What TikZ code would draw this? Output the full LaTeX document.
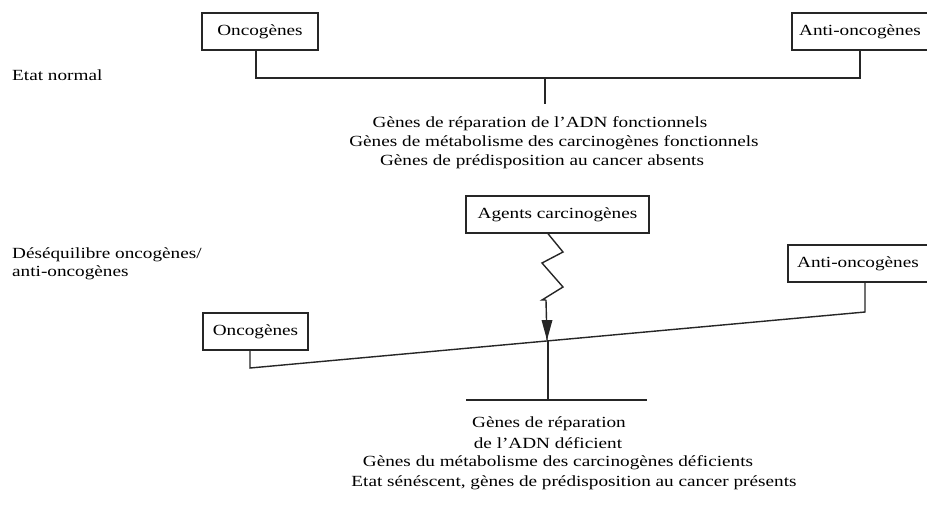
\documentclass[tikz,border=0pt]{standalone}
\usepackage{fontspec}
\setmainfont{Liberation Serif}[FakeStretch=1.24]
\usetikzlibrary{arrows.meta}
\begin{document}
\begin{tikzpicture}[x=1pt,y=-1pt,
  font=\fontsize{15.5}{19}\selectfont,
  box/.style={draw=black!85, line width=1.4pt, minimum height=37pt, inner sep=0pt, fill=white, text=black},
  conn/.style={line width=1.4pt, draw=black!85},
  tipfill/.style={fill=black!85},
  txt/.style={inner sep=0pt, text=black}]
\clip (0,0) rectangle (927,504);
\fill[white] (0,0) rectangle (927,504);
% --- Etat normal ---
\node[txt, anchor=west] (en) at (12,75) {Etat normal};
\node[box, minimum width=116pt] (o1) at (260,31.5) {Oncogènes};
\node[box, minimum width=136pt] (a1) at (860,31.5) {Anti-oncogènes};
\coordinate (L0) at (256,78);
\coordinate (R0) at (860,78);
\coordinate (M0) at (545,78);
\coordinate (M0b) at (545,104);
\draw[conn] (L0 |- o1.south) -- (L0) -- (R0) -- (a1.south);
\draw[conn] (M0) -- (M0b);
\node[txt] (t1) at (540,124) {Gènes de réparation de l’ADN fonctionnels};
\node[txt] (t2) at (554,143) {Gènes de métabolisme des carcinogènes fonctionnels};
\node[txt] (t3) at (542,162) {Gènes de prédisposition au cancer absents};
% --- Desequilibre ---
\node[txt, anchor=west] (d1) at (12,255) {Déséquilibre oncogènes/};
\node[txt, anchor=west] (d2) at (12,273) {anti-oncogènes};
\node[box, minimum width=183pt] (ag) at (557.5,214.5) {Agents carcinogènes};
\node[box, minimum width=105pt] (o2) at (255.5,331.5) {Oncogènes};
\node[box, minimum width=140pt] (a2) at (858,263.5) {Anti-oncogènes};
\coordinate (Z0) at (548,233);
\coordinate (Z) at (546,300);
\coordinate (F) at (547,340);
\coordinate (L) at (250,368);
\coordinate (R) at (865,312);
\coordinate (B) at (548,400);
\coordinate (BL) at (466,400);
\coordinate (BR) at (647,400);
\draw[conn] (ag.south -| Z0) -- (563,252) -- (542,263) -- (563,287) -- (542,300) -- (Z);
\draw[conn] (Z) -- (F);
\fill[tipfill] (F) -- ++(-5.5,-20) -- ++(11,0) -- cycle;
\draw[conn] (L |- o2.south) -- (L) -- (R) -- (R |- a2.south);
\draw[conn] (B |- F) -- (B);
\draw[conn] (BL) -- (BR);
\node[txt] (b1) at (549,424) {Gènes de réparation};
\node[txt] (b2) at (548,443) {de l’ADN déficient};
\node[txt] (b3) at (558,463) {Gènes du métabolisme des carcinogènes déficients};
\node[txt] (b4) at (574,483) {Etat sénéscent, gènes de prédisposition au cancer présents};
\end{tikzpicture}
\end{document}
